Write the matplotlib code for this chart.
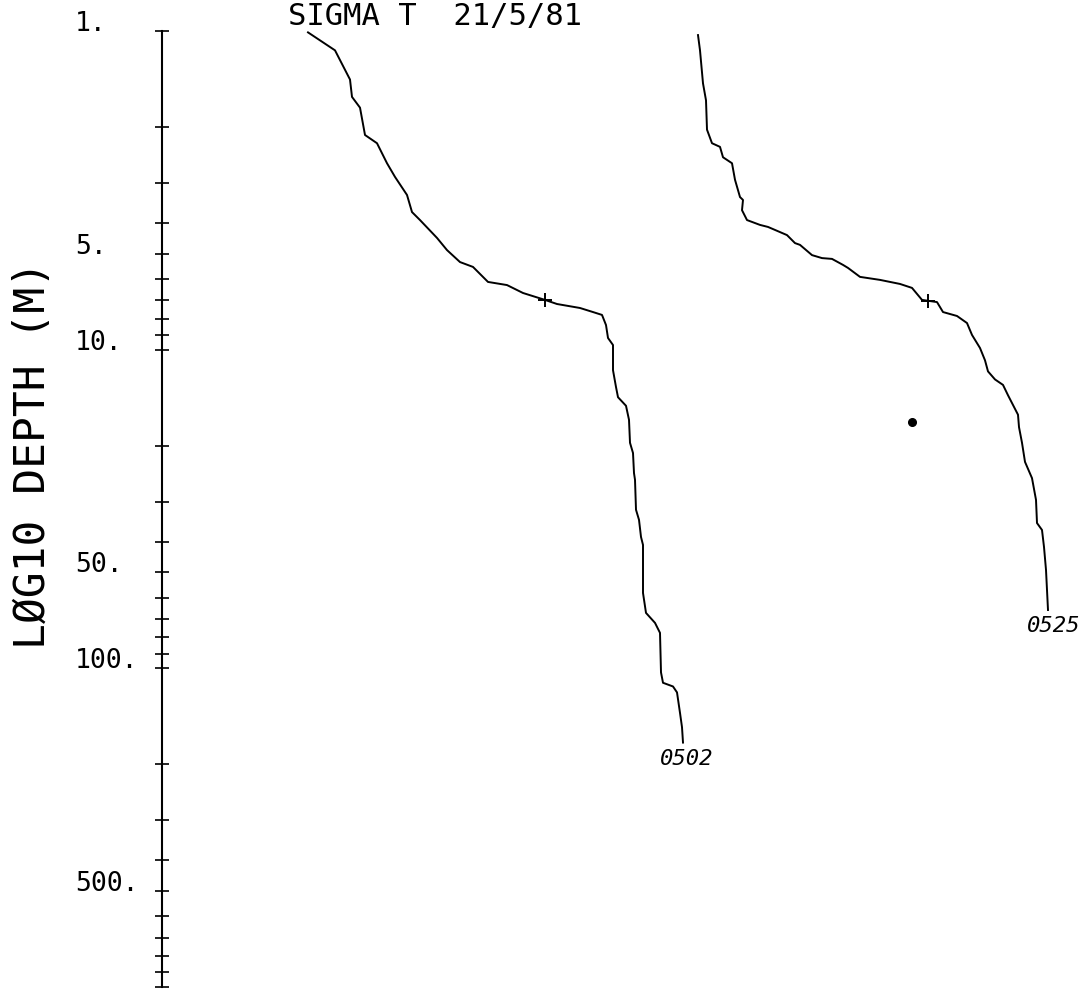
import matplotlib
matplotlib.use("Agg")
import matplotlib.pyplot as plt
from matplotlib.ticker import LogLocator, NullFormatter

plt.rcParams['font.family'] = ['DejaVu Sans Mono', 'DejaVu Sans']

# profile 0502 : x offset (plot units), depth (m)
x_0502 = [1.46, 1.73, 1.88, 1.90, 1.98, 2.03, 2.15, 2.25, 2.33, 2.45, 2.50, 2.58,
          2.75, 2.85, 2.98, 3.11, 3.26, 3.45, 3.61, 3.83, 3.95, 4.18, 4.31, 4.40,
          4.44, 4.46, 4.51, 4.51, 4.54, 4.56, 4.64, 4.67, 4.68, 4.71, 4.72, 4.73,
          4.74, 4.77, 4.79, 4.81, 4.81, 4.84, 4.93, 4.98, 4.99, 5.01, 5.11, 5.15,
          5.18, 5.20, 5.21]
d_0502 = [1.01, 1.15, 1.42, 1.61, 1.74, 2.12, 2.25, 2.60, 2.87, 3.27, 3.70, 3.92,
          4.46, 4.87, 5.31, 5.50, 6.13, 6.27, 6.64, 6.98, 7.19, 7.40, 7.62, 7.78,
          8.37, 9.19, 9.67, 11.6, 13.1, 14.1, 15.0, 16.6, 19.6, 21.1, 24.4, 25.6,
          31.8, 34.2, 38.7, 41.0, 58.0, 67.0, 72.0, 77.4, 103, 111, 114, 119,
          138, 153, 171]

# profile 0525
x_0525 = [5.36, 5.38, 5.41, 5.44, 5.45, 5.50, 5.58, 5.61, 5.70, 5.73, 5.78, 5.81,
          5.80, 5.85, 5.98, 6.06, 6.13, 6.25, 6.33, 6.38, 6.50, 6.60, 6.70, 6.81,
          6.86, 6.98, 7.18, 7.38, 7.50, 7.60, 7.75, 7.81, 7.95, 8.05, 8.10, 8.18,
          8.23, 8.26, 8.33, 8.41, 8.46, 8.56, 8.57, 8.60, 8.63, 8.70, 8.74, 8.75,
          8.80, 8.82, 8.84, 8.86]
d_0525 = [1.03, 1.15, 1.46, 1.65, 2.04, 2.25, 2.31, 2.49, 2.60, 2.93, 3.32, 3.39,
          3.65, 3.92, 4.06, 4.12, 4.21, 4.37, 4.63, 4.69, 5.05, 5.16, 5.19, 5.42,
          5.54, 5.91, 6.04, 6.22, 6.40, 6.98, 7.09, 7.62, 7.84, 8.25, 8.99, 9.88,
          10.8, 11.7, 12.4, 12.9, 13.9, 16.0, 17.5, 19.6, 22.5, 25.3, 29.6, 35.0,
          36.8, 41.6, 49.1, 65.6]

# mixed layer marks (+) and single point
cross_x = [3.83, 7.66]
cross_d = [6.98, 7.05]
dot_x = [7.50]
dot_d = [16.9]

stations = ['0502', '0525']
label_x = [5.25, 8.92]
label_d = [192.5, 73.6]

tick_vals = [1, 5, 10, 50, 100, 500]
tick_text = ['1.', '5.', '10.', '50.', '100.', '500.']

fig = plt.figure(figsize=(10.91, 9.90), dpi=100)
ax = fig.add_axes([0.14849, 0.00303, 0.85151, 0.96566])

ax.plot(x_0502, d_0502, color='black', lw=1.4)
ax.plot(x_0525, d_0525, color='black', lw=1.4)
ax.plot(cross_x, cross_d, '+', color='black', ms=10, mew=1.4)
ax.plot(dot_x, dot_d, 'o', color='black', ms=5.5)

for s, lx, ld in zip(stations, label_x, label_d):
    ax.text(lx, ld, s, ha='center', va='center', fontsize=16, style='italic',
            clip_on=False)

ax.set_yscale('log')
ax.set_ylim(1000, 1)
ax.set_xlim(0, 9.29)

ax.yaxis.set_major_locator(LogLocator(base=10))
ax.yaxis.set_minor_locator(LogLocator(base=10, subs=range(2, 10)))
ax.yaxis.set_major_formatter(NullFormatter())
ax.yaxis.set_minor_formatter(NullFormatter())
ax.tick_params(axis='y', which='both', direction='inout', length=10, width=1.2)
ax.xaxis.set_visible(False)
for side in ['top', 'right', 'bottom']:
    ax.spines[side].set_visible(False)
ax.spines['left'].set_linewidth(1.5)

# depth labels, left aligned, baseline on the tick
tx = (75 - 162) / 929
for v, t in zip(tick_vals, tick_text):
    ax.text(tx, v, t, transform=ax.get_yaxis_transform(), ha='left',
            va='baseline', fontsize=19, clip_on=False)

fig.text(435 / 1091, 1 - 2 / 990, 'SIGMA T  21/5/81', ha='center', va='top',
         fontsize=22)
fig.text(33 / 1091, 1 - 455 / 990, 'LØG10 DEPTH (M)', ha='center', va='center',
         rotation=90, fontsize=31)

fig.savefig('out.png', dpi=100)
